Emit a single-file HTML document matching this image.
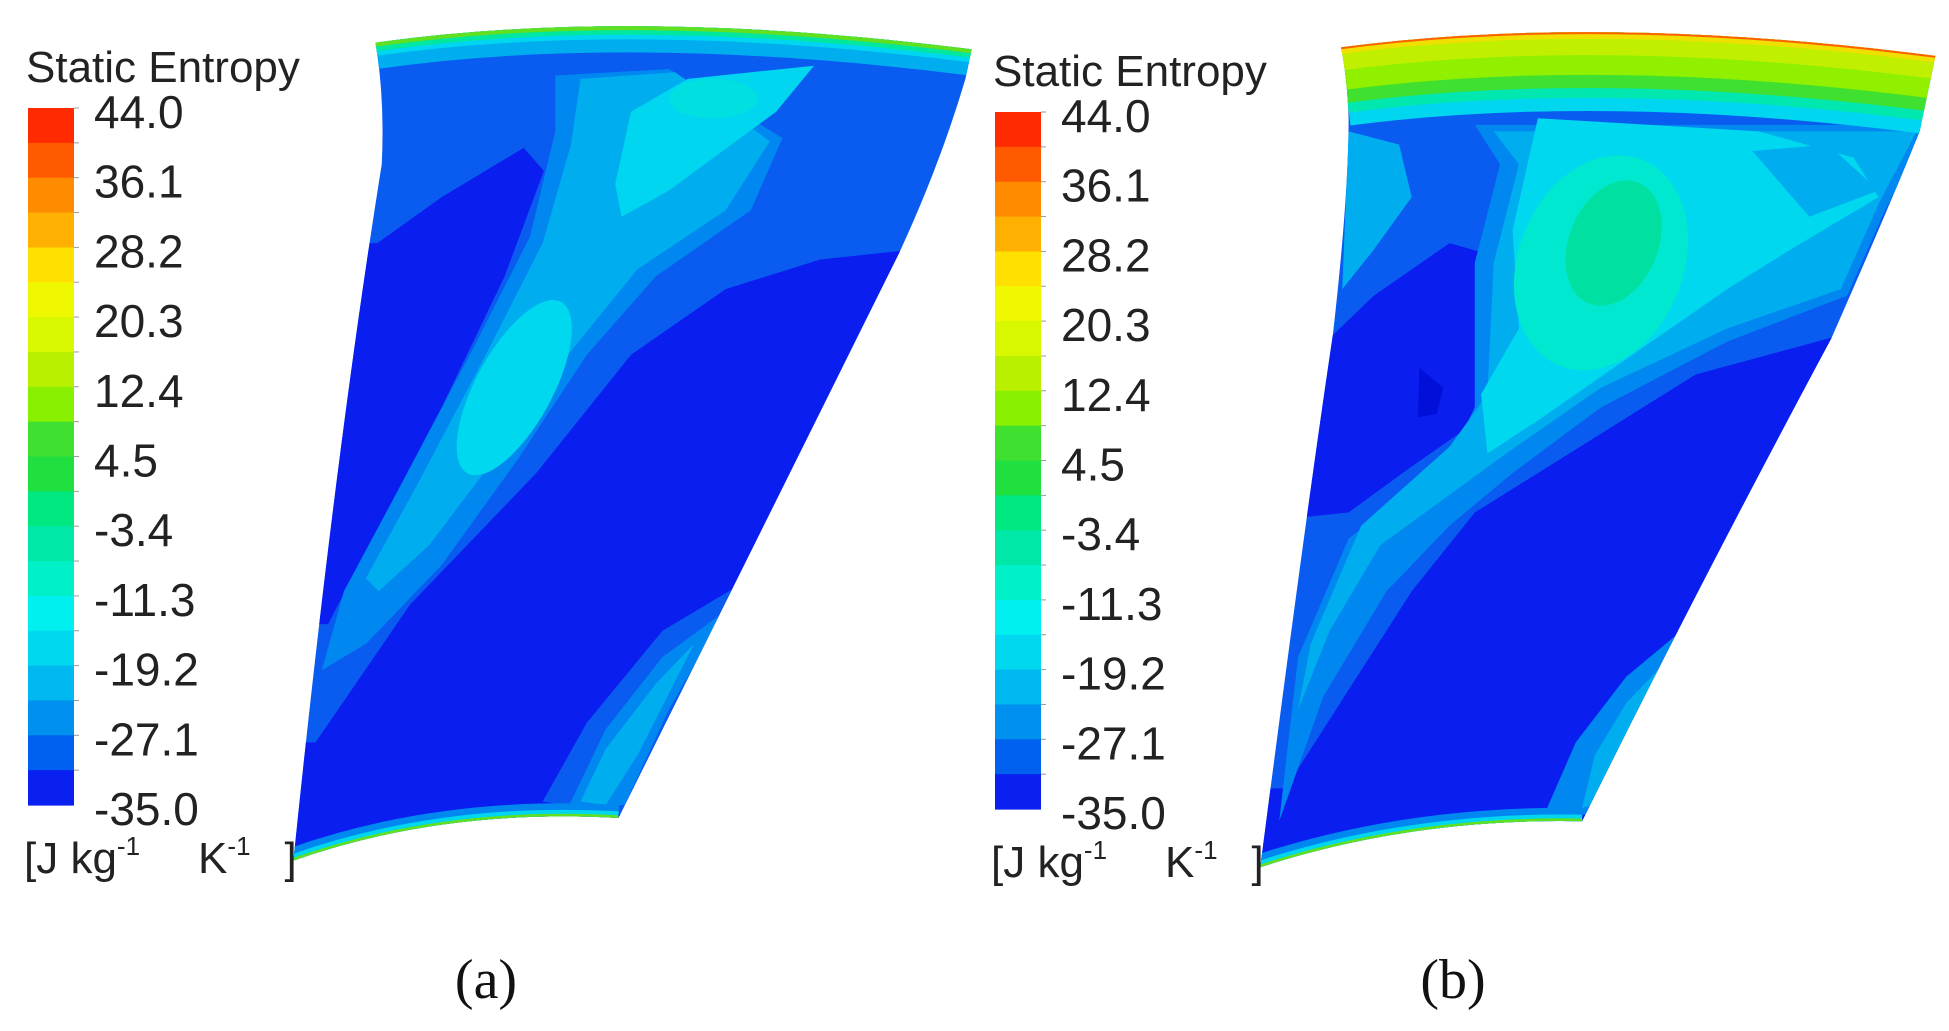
<!DOCTYPE html>
<html><head><meta charset="utf-8"><style>
html,body{margin:0;padding:0;background:#fff;}
svg{display:block;}
</style></head><body>
<svg id="fig" width="1949" height="1031" viewBox="0 0 1949 1031" xmlns="http://www.w3.org/2000/svg">
<defs>
<clipPath id="clipA"><path d="M595,65 Q1000,10 1540,75 L1530,120 Q1490,250 1425,385 Q1200,820 980,1245 Q700,1230 465,1310 Q530,700 605,250 Q610,150 595,65 Z"/></clipPath>
<clipPath id="clipB"><path d="M588,72 Q1000,20 1530,85 L1505,200 Q1450,330 1365,515 Q1150,900 970,1250 Q700,1245 460,1320 Q530,800 575,510 Q600,300 600,180 Q598,120 588,72 Z"/></clipPath>
</defs>

<g transform="scale(0.631,0.657)">
<g clip-path="url(#clipA)">
<rect x="400" y="0" width="1200" height="1400" fill="#0a5cf0"/>
<polygon fill="#0a1ef0" points="1445,380 1300,395 1150,440 1000,540 850,720 650,920 500,1130 400,1130 400,1400 1000,1400 1500,900 1600,380"/>
<polygon fill="#0a1ef0" points="598,370 700,300 830,225 862,260 800,420 700,620 590,820 520,950 400,950 400,370"/>
<polygon fill="#0088f0" points="880,115 1060,105 1240,210 1190,320 1040,420 930,540 820,700 700,860 580,980 510,1020 545,900 640,730 750,530 840,360 880,200"/>
<polygon fill="#00aef0" points="920,120 1070,110 1220,215 1150,320 1010,410 900,540 790,690 680,830 600,900 580,880 660,740 770,540 860,370 905,220"/>
<polygon fill="#00d6f0" points="985,330 975,280 1000,170 1090,120 1290,100 1230,170 1060,290"/>
<ellipse cx="1130" cy="150" rx="70" ry="30" fill="#00e0e0"/>
<ellipse cx="815" cy="590" rx="60" ry="150" transform="rotate(30 815 590)" fill="#00d8f0"/>
<polygon fill="#0a5cf0" points="1190,880 1050,960 930,1100 860,1220 990,1240 1090,1060"/>
<polygon fill="#0088f0" points="1150,930 1050,1000 960,1110 900,1230 990,1225 1060,1080"/>
<polygon fill="#00aef0" points="1100,980 1040,1040 960,1140 920,1220 960,1225 1010,1150"/>
<path d="M595,65 Q1000,10 1540,75" fill="none" stroke="#00aef0" stroke-width="80"/>
<path d="M595,65 Q1000,10 1540,75" fill="none" stroke="#00d6f0" stroke-width="40"/>
<path d="M595,65 Q1000,10 1540,75" fill="none" stroke="#00e8a0" stroke-width="26"/>
<path d="M595,65 Q1000,10 1540,75" fill="none" stroke="#60e020" stroke-width="12"/>
<path d="M465,1310 Q700,1230 980,1245" fill="none" stroke="#0088f0" stroke-width="40"/>
<path d="M465,1310 Q700,1230 980,1245" fill="none" stroke="#00d6f0" stroke-width="20"/>
<path d="M465,1310 Q700,1230 980,1245" fill="none" stroke="#60e020" stroke-width="8"/>
</g>
</g>

<g transform="translate(970,0) scale(0.631,0.657)">
<g clip-path="url(#clipB)">
<rect x="400" y="0" width="1200" height="1400" fill="#0a5cf0"/>
<polygon fill="#0a1ef0" points="1380,510 1150,570 950,690 800,780 700,900 600,1050 500,1200 400,1200 400,1400 1000,1400 1500,700 1600,500"/>
<polygon fill="#0a1ef0" points="575,510 640,450 760,370 815,385 825,600 790,650 700,710 600,780 400,800 400,510"/>
<path d="M712,560 L750,590 L740,630 L710,635 Z" fill="#0010d8"/>
<polygon fill="#0088f0" points="800,190 1520,190 1450,320 1390,450 1200,520 1000,620 860,720 760,800 660,900 560,1060 490,1250 520,1000 600,820 760,700 800,620 800,400 840,250"/>
<polygon fill="#00aef0" points="830,200 1500,200 1440,310 1380,440 1200,500 1000,590 850,690 750,760 650,830 570,960 520,1080 540,980 620,800 760,680 820,600 830,400 870,250"/>
<polygon fill="#00aef0" points="600,200 680,220 700,300 640,380 590,440"/>
<polygon fill="#00d8f0" points="900,180 1250,200 1400,240 1440,300 1300,380 1200,440 1050,540 900,640 820,690 810,600 870,500 860,350"/>
<polygon fill="#00aef0" points="1240,230 1360,220 1440,290 1330,330"/>
<ellipse cx="1000" cy="400" rx="130" ry="170" transform="rotate(25 1000 400)" fill="#00e8d0"/>
<ellipse cx="1020" cy="370" rx="70" ry="100" transform="rotate(25 1020 370)" fill="#00e0a0"/>
<polygon fill="#0088f0" points="1140,950 1040,1030 960,1130 910,1240 980,1240 1070,1090"/>
<polygon fill="#00aef0" points="1100,1010 1040,1070 990,1150 970,1230 1000,1220 1050,1120"/>
<path d="M588,72 Q1000,20 1530,85" fill="none" stroke="#00d6f0" stroke-width="240"/>
<path d="M588,72 Q1000,20 1530,85" fill="none" stroke="#00e8b0" stroke-width="200"/>
<path d="M588,72 Q1000,20 1530,85" fill="none" stroke="#40e030" stroke-width="170"/>
<path d="M588,72 Q1000,20 1530,85" fill="none" stroke="#90f000" stroke-width="130"/>
<path d="M588,72 Q1000,20 1530,85" fill="none" stroke="#c0f000" stroke-width="70"/>
<path d="M588,72 Q1000,20 1530,85" fill="none" stroke="#f0e000" stroke-width="20"/>
<path d="M588,72 Q1000,20 1530,85" fill="none" stroke="#ff6000" stroke-width="6"/>
<path d="M460,1320 Q700,1245 970,1250" fill="none" stroke="#0088f0" stroke-width="40"/>
<path d="M460,1320 Q700,1245 970,1250" fill="none" stroke="#00d6f0" stroke-width="20"/>
<path d="M460,1320 Q700,1245 970,1250" fill="none" stroke="#60e020" stroke-width="8"/>
</g>
</g>

<g id="legends"></g>

<text x="486" y="998" text-anchor="middle" font-family="Liberation Serif, serif" font-size="56" fill="#111">(a)</text>
<text x="1453" y="998" text-anchor="middle" font-family="Liberation Serif, serif" font-size="56" fill="#111">(b)</text>
</svg>
<script>
const bandColors = ["#ff2a00","#ff5a00","#ff8c00","#ffb000","#ffe000","#f0f800","#d8f800","#b8f000","#88f000","#40e030","#20e040","#00e880","#00e8a8","#00f0c8","#00f0f0","#00d8f0","#00b8f0","#0090f0","#0060f0","#0a20f0"];
const tickLabels = ["44.0","36.1","28.2","20.3","12.4","4.5","-3.4","-11.3","-19.2","-27.1","-35.0"];
const legendX = [28, 995];
const legendY = [108, 112];
const NS = "http://www.w3.org/2000/svg";
const root = document.getElementById("legends");
function mk(tag, attrs){const e=document.createElementNS(NS,tag);for(const k in attrs)e.setAttribute(k,attrs[k]);return e;}
legendX.forEach((x0,p)=>{
  const y0 = legendY[p], w=46, h=697;
  const g = mk("g",{});
  
  
  root.appendChild(g);
  const title = mk("text",{x:x0-2,y:y0-26,"font-family":"Liberation Sans, sans-serif","font-size":"44",fill:"#222"});
  title.textContent="Static Entropy";
  
  
  g.appendChild(title);
  const bh = h/bandColors.length;
  bandColors.forEach((c,i)=>{
    const r = mk("rect",{x:x0,y:y0+i*bh,width:w,height:bh+0.6,fill:c});
    
    
    g.appendChild(r);
    const t = mk("line",{x1:x0+w,x2:x0+w+5,y1:y0+i*bh,y2:y0+i*bh,stroke:"#999","stroke-width":"1"});
    g.appendChild(t);
  });
  const step = h/(tickLabels.length-1);
  tickLabels.forEach((s,i)=>{
    const t = mk("text",{x:x0+66,y:y0+i*step+20,"font-family":"Liberation Sans, sans-serif","font-size":"46",fill:"#222"});
    t.textContent=s;
    
    
    g.appendChild(t);
  });
  const u = mk("text",{x:x0-4,y:y0+h+68,"font-family":"Liberation Sans, sans-serif","font-size":"44",fill:"#222"});
  u.innerHTML='[J kg<tspan font-size="26" dy="-18">-1</tspan><tspan dy="18" dx="58">K</tspan><tspan font-size="26" dy="-18">-1</tspan><tspan dy="18" dx="34">]</tspan>';
  
  
  g.appendChild(u);
});
</script>
</body></html>
